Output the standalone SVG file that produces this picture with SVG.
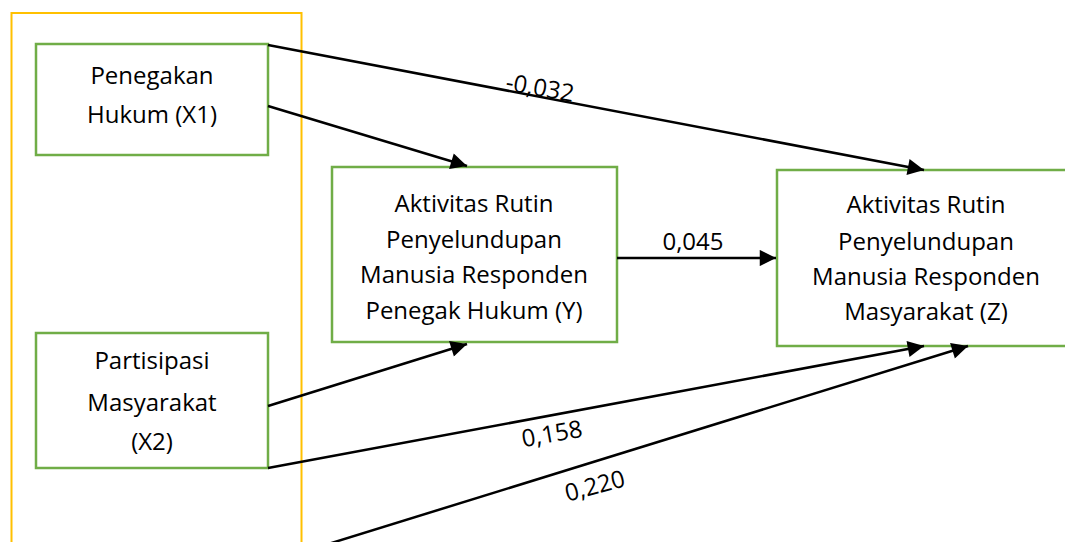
<svg xmlns="http://www.w3.org/2000/svg" width="1065" height="542" viewBox="0 0 1065 542">
<style>
.box{fill:#fff;stroke:#70AD47;stroke-width:2.5}
.t{font-family:"Open Sans","Liberation Sans",sans-serif;font-size:24px;fill:#000;text-anchor:middle}
.c{stroke:#000;stroke-width:2.5;fill:none}
</style>
<defs>
<marker id="ah" viewBox="0 0 10 10" refX="10" refY="5" markerWidth="8" markerHeight="6.5" markerUnits="strokeWidth" orient="auto">
<path d="M0,0 L10,5 L0,10 z" fill="#000"/>
</marker>
</defs>
<rect x="0" y="0" width="1065" height="542" fill="#fff"/>
<rect id="frame" x="11.5" y="13" width="290" height="540" fill="none" stroke="#FFC000" stroke-width="2"/>
<g id="x1">
<rect class="box" x="36" y="44" width="232" height="111"/>
<text class="t" x="152" y="84">Penegakan</text>
<text class="t" x="152" y="123">Hukum (X1)</text>
</g>
<g id="x2">
<rect class="box" x="36" y="333" width="232" height="135"/>
<text class="t" x="152" y="369">Partisipasi</text>
<text class="t" x="152" y="411">Masyarakat</text>
<text class="t" x="152" y="450">(X2)</text>
</g>
<g id="y">
<rect class="box" x="332" y="167" width="285" height="175"/>
<text class="t" x="474" y="212">Aktivitas Rutin</text>
<text class="t" x="474" y="248">Penyelundupan</text>
<text class="t" x="474" y="283">Manusia Responden</text>
<text class="t" x="474" y="319">Penegak Hukum (Y)</text>
</g>
<g id="z">
<rect class="box" x="777" y="170" width="300" height="176"/>
<text class="t" x="926" y="213">Aktivitas Rutin</text>
<text class="t" x="926" y="250">Penyelundupan</text>
<text class="t" x="926" y="285">Manusia Responden</text>
<text class="t" x="926" y="320">Masyarakat (Z)</text>
</g>
<g id="connectors">
<line class="c" x1="268" y1="45" x2="924" y2="170" marker-end="url(#ah)"/>
<line class="c" x1="268" y1="106" x2="467" y2="166" marker-end="url(#ah)"/>
<line class="c" x1="617" y1="258" x2="776" y2="258" marker-end="url(#ah)"/>
<line class="c" x1="268" y1="406" x2="467" y2="344" marker-end="url(#ah)"/>
<line class="c" x1="268" y1="468" x2="924" y2="346" marker-end="url(#ah)"/>
<line class="c" x1="325" y1="545" x2="968" y2="346" marker-end="url(#ah)"/>
<text class="t" x="540" y="96" transform="rotate(10 540 88)">-0,032</text>
<text class="t" x="693" y="250">0,045</text>
<text class="t" x="552" y="442" transform="rotate(-10 552 434)">0,158</text>
<text class="t" x="595" y="494" transform="rotate(-15 595 486)">0,220</text>
</g>
</svg>
